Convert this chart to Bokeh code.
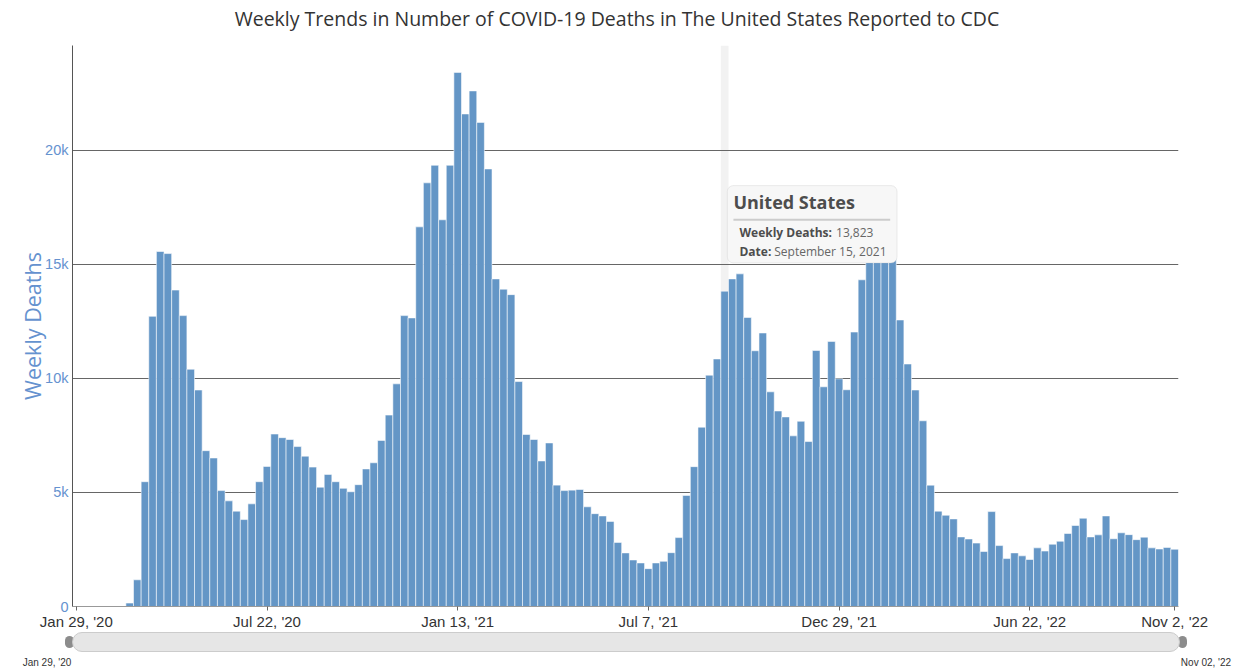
import numpy as np
import pandas as pd
from bokeh.plotting import figure
from bokeh.layouts import column
from bokeh.models import ColumnDataSource, Range1d, FixedTicker, BoxAnnotation, Label, Div
from bokeh.embed import file_html
from bokeh.resources import INLINE

# ---------------- data ----------------
start_date = "2020-01-29"
weekly_deaths = [
    0, 0, 0, 0, 0, 0, 0, 150, 1170, 5470, 12720, 15560, 15470, 13870, 12750, 10400,
    9490, 6830, 6510, 5080, 4630, 4180, 3810, 4500, 5470,
    6140, 7560, 7400, 7320, 7010, 6590, 6110, 5230, 5790, 5470, 5180, 5030, 5340,
    6030, 6300, 7280, 8390, 9760, 12750, 12650, 16640, 18570, 19340, 16950, 19340,
    23410, 21590, 22600, 21220, 19180, 14360, 13910, 13670, 9860, 7540, 7320, 6380,
    7170, 5320, 5080, 5100, 5130, 4370, 4070, 3970, 3730, 2810, 2350, 2040, 1910,
    1660, 1910, 1980, 2360, 3020, 4870, 6130, 7860, 10140, 10850, 13823, 14360,
    14580, 12670, 11210, 11990, 9410, 8570, 8310, 7480, 8120, 7230, 11220, 9630, 11620,
    9980, 9500, 12030, 14320, 15900, 17100, 17600, 16400, 12560, 10630, 9490, 8140,
    5320, 4180, 4000, 3840, 3050, 2960, 2780, 2410, 4160, 2670, 2100, 2350, 2220,
    2060, 2570, 2430, 2730, 2860, 3200, 3550, 3870, 3050, 3140, 3970, 2970, 3230,
    3150, 2930, 3040, 2570, 2520, 2590, 2510,
]
x_tick_dates = ["2020-01-29", "2020-07-22", "2021-01-13", "2021-07-07",
                "2021-12-29", "2022-06-22", "2022-11-02"]
y_ticks = [0, 5000, 10000, 15000, 20000]
y_tick_labels = ["0", "5k", "10k", "15k", "20k"]
highlight_date = "2021-09-15"
title_text = "Weekly Trends in Number of COVID-19 Deaths in The United States Reported to CDC"
series_name = "United States"

dates = pd.date_range(start_date, periods=len(weekly_deaths), freq="7D")
xs = np.arange(len(weekly_deaths))
src = ColumnDataSource(dict(x=xs, deaths=weekly_deaths, date=dates))

tick_idx = [int(dates.get_loc(pd.Timestamp(d))) for d in x_tick_dates]
tick_lbl = {i: f"{dates[i]:%b} {dates[i].day}, '{dates[i]:%y}" for i in tick_idx}

# ---------------- styles ----------------
W = 1240
TITLE_H = 38
MAIN_H = 594
NAV_H = 38
BL, BR, BT, BB = 72, 62, 7, 26
BAR = "#6496c6"
AXIS_BLUE = "#6592cf"
Y_END = 24590

# ---------------- title ----------------
title_div = Div(
    text=(f'<div style="position:relative;width:{W}px;height:{TITLE_H}px;">'
          f'<div style="position:absolute;left:0;top:6px;width:1234px;text-align:center;'
          f"font-family:'Open Sans';font-size:19.5px;line-height:26px;color:#333333;"
          f'white-space:nowrap;">{title_text}</div></div>'),
    width=W, height=TITLE_H, margin=0)

# ---------------- main chart ----------------
p = figure(width=W, height=MAIN_H, output_backend="svg", toolbar_location=None,
           x_range=Range1d(-0.5, len(weekly_deaths) - 0.5),
           y_range=Range1d(0, Y_END),
           min_border_left=BL, min_border_right=BR, min_border_top=BT, min_border_bottom=BB)
p.outline_line_color = None
p.background_fill_color = "white"
p.border_fill_color = "white"

# grid
p.xgrid.visible = False
p.ygrid.ticker = FixedTicker(ticks=y_ticks[1:])
p.ygrid.grid_line_color = "#666666"
p.ygrid.grid_line_width = 1

# y axis
ya = p.yaxis[0]
ya.ticker = FixedTicker(ticks=y_ticks)
ya.major_label_overrides = {t: l for t, l in zip(y_ticks, y_tick_labels)}
ya.major_label_text_font = "Liberation Sans"
ya.major_label_text_font_size = "14.5px"
ya.major_label_text_color = AXIS_BLUE
ya.major_tick_out = 0
ya.major_tick_in = 0
ya.minor_tick_out = 0
ya.minor_tick_in = 0
ya.major_label_standoff = 4
ya.axis_line_color = "#555555"
ya.axis_label = "Weekly Deaths"
ya.axis_label_text_font = "Open Sans"
ya.axis_label_text_font_size = "21.5px"
ya.axis_label_text_font_style = "normal"
ya.axis_label_text_color = AXIS_BLUE
ya.axis_label_standoff = -5

# x axis
xa = p.xaxis[0]
xa.ticker = FixedTicker(ticks=tick_idx)
xa.major_label_overrides = tick_lbl
xa.major_label_text_font = "Liberation Sans"
xa.major_label_text_font_size = "15px"
xa.major_label_text_color = "#333333"
xa.major_tick_out = 4
xa.major_tick_in = 0
xa.major_tick_line_color = "#666666"
xa.minor_tick_out = 0
xa.minor_tick_in = 0
xa.major_label_standoff = 2
xa.axis_line_color = "#999999"

# hover highlight band
hi = int(dates.get_loc(pd.Timestamp(highlight_date)))
p.vbar(x=[hi], top=[Y_END], width=1, fill_color="#d9d9d9", fill_alpha=0.35,
       line_alpha=0, level="underlay")

# bars
p.vbar(x="x", top="deaths", width=1, source=src, fill_color=BAR,
       line_color="white", line_width=1, line_alpha=0.55)

# tooltip
hv = weekly_deaths[hi]
hd = dates[hi]
p.add_layout(BoxAnnotation(left=hi + 0.35, right=hi + 22.6, bottom=15060, top=18450,
                           fill_color="#f7f7f7", fill_alpha=1,
                           line_color="#c4c4c4", line_width=1, border_radius=6))
p.add_layout(BoxAnnotation(left=hi + 1.15, right=hi + 21.7, bottom=16910, top=16995,
                           fill_color="#cccccc", fill_alpha=1, line_alpha=0))
p.add_layout(Label(x=hi + 1.15, y=17750, text=series_name, text_font="Open Sans",
                   text_font_size="18px", text_font_style="bold",
                   text_color="#4d4d4d", text_baseline="middle"))
p.add_layout(Label(x=hi + 1.94, y=16380, text="Weekly Deaths:", text_font="Open Sans",
                   text_font_size="12px", text_font_style="bold",
                   text_color="#4d4d4d", text_baseline="middle"))
p.add_layout(Label(x=hi + 14.6, y=16380, text=f"{hv:,}", text_font="Open Sans",
                   text_font_size="12px", text_color="#666666", text_baseline="middle"))
p.add_layout(Label(x=hi + 1.94, y=15560, text="Date:", text_font="Open Sans",
                   text_font_size="12px", text_font_style="bold",
                   text_color="#4d4d4d", text_baseline="middle"))
p.add_layout(Label(x=hi + 6.5, y=15560, text=f"{hd:%B} {hd.day}, {hd:%Y}",
                   text_font="Open Sans", text_font_size="12px",
                   text_color="#666666", text_baseline="middle"))

# ---------------- navigator (range selector strip) ----------------
pill_l, pill_r = BL, W - BR + 2
lbl_style = ("position:absolute;top:25px;font-family:'Liberation Sans';font-size:10px;"
             "line-height:12px;color:#333333;white-space:nowrap;")
nav_html = (
    f'<div style="position:relative;width:{W}px;height:{NAV_H}px;">'
    f'<div style="position:absolute;left:{pill_l - 7}px;top:4px;width:9px;height:12px;'
    f'background:#8c8c8c;border-radius:5px;"></div>'
    f'<div style="position:absolute;left:{pill_r - 2}px;top:4px;width:9px;height:12px;'
    f'background:#8c8c8c;border-radius:5px;"></div>'
    f'<div style="position:absolute;left:{pill_l}px;top:0px;width:{pill_r - pill_l}px;height:20px;'
    f'box-sizing:border-box;background:#e6e6e6;border:1px solid #cccccc;border-radius:10px;"></div>'
    f'<div style="{lbl_style}left:{pill_l - 50}px;width:50px;text-align:center;">{dates[0]:%b %d, \'%y}</div>'
    f'<div style="{lbl_style}left:{pill_r}px;width:52px;text-align:center;">{dates[-1]:%b %d, \'%y}</div>'
    f'</div>')
nav_div = Div(text=nav_html, width=W, height=NAV_H, margin=0)

layout = column(title_div, p, nav_div, spacing=0)
open("out.html", "w").write(file_html(layout, INLINE))
